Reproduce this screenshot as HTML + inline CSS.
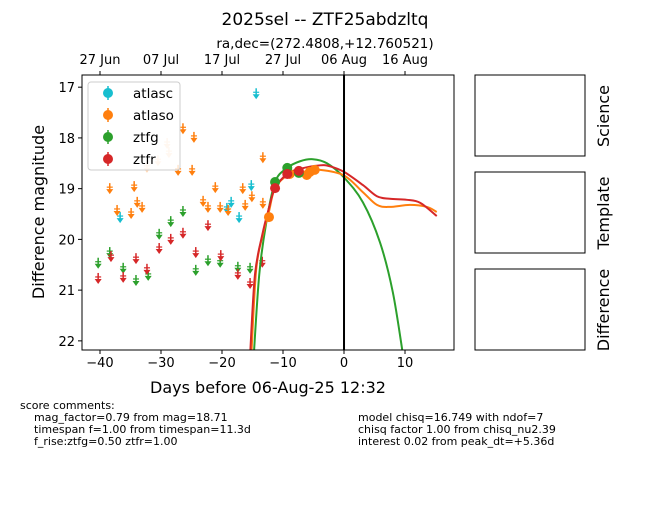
<!DOCTYPE html>
<html><head><meta charset="utf-8"><style>
body{margin:0;background:#fff;font-family:"Liberation Sans","DejaVu Sans",sans-serif;}
svg text{font-family:"DejaVu Sans","Liberation Sans",sans-serif;}
</style></head><body>
<svg id="chart" width="650" height="500" xmlns="http://www.w3.org/2000/svg">
<rect width="650" height="500" fill="#fff"/>
<text x="325" y="25" font-size="17" text-anchor="middle">2025sel -- ZTF25abdzltq</text>
<text x="325" y="48" font-size="13.5" text-anchor="middle">ra,dec=(272.4808,+12.760521)</text>
<defs><clipPath id="pc"><rect x="82" y="75" width="372" height="275"/></clipPath></defs>
<g id="marks" clip-path="url(#pc)"></g>
<g id="axes"></g>
<rect x="82" y="75" width="372" height="275" fill="none" stroke="#000" stroke-width="1"/>
<g id="legend">
<rect x="88" y="82" width="92" height="88" rx="3" fill="#fff" fill-opacity="0.8" stroke="#ccc"/>
</g>
<text x="268" y="393" font-size="16" text-anchor="middle">Days before 06-Aug-25 12:32</text>
<text transform="translate(44,212) rotate(-90)" font-size="16" text-anchor="middle">Difference magnitude</text>
<rect x="475" y="75" width="110" height="81" fill="none" stroke="#000"/>
<rect x="475" y="172" width="110" height="81" fill="none" stroke="#000"/>
<rect x="475" y="269" width="110" height="81" fill="none" stroke="#000"/>
<text transform="translate(609,116) rotate(-90)" font-size="16" text-anchor="middle">Science</text>
<text transform="translate(609,213) rotate(-90)" font-size="16" text-anchor="middle">Template</text>
<text transform="translate(609,310) rotate(-90)" font-size="16" text-anchor="middle">Difference</text>
<g font-size="11">
<text x="20" y="409">score comments:</text>
<text x="34" y="421">mag_factor=0.79 from mag=18.71</text>
<text x="34" y="433">timespan f=1.00 from timespan=11.3d</text>
<text x="34" y="445">f_rise:ztfg=0.50 ztfr=1.00</text>
<text x="358" y="421">model chisq=16.749 with ndof=7</text>
<text x="358" y="433">chisq factor 1.00 from chisq_nu2.39</text>
<text x="358" y="445">interest 0.02 from peak_dt=+5.36d</text>
</g>
</svg>
<script>
const xTicks=[-40,-30,-20,-10,0,10];
const xTickLabels=["−40","−30","−20","−10","0","10"];
const yTicks=[17,18,19,20,21,22];
const topTicks=[-40,-30,-20,-10,0,10];
const topTickLabels=["27 Jun","07 Jul","17 Jul","27 Jul","06 Aug","16 Aug"];
const atlascLimD=[-14.4,-36.7,-15.2,-18.5,-19.2,-17.2];
const atlascLimM=[17.12,19.56,18.93,19.26,19.38,19.56];
const atlasoLimD=[-38.4,-37.2,-34.9,-34.4,-33.9,-33.1,-32.3,-30.5,-29.0,-28.7,-27.2,-26.4,-24.9,-24.6,-23.1,-22.3,-21.1,-20.3,-19.0,-16.6,-16.2,-15.1,-13.3,-13.3];
const atlasoLimM=[18.99,19.42,19.48,18.95,19.26,19.36,18.57,18.44,18.10,18.28,18.63,17.81,18.63,17.98,19.24,19.36,18.97,19.36,19.42,18.99,19.32,19.15,18.38,19.28];
const atlasoFaint=[0,0,0,0,0,0,1,1,1,1,0,0,0,0,0,0,0,0,0,0,0,0,0,0];
const atlasoDetD=[-12.3,-8.9,-6.1,-5.6,-4.8];
const atlasoDetM=[19.56,18.71,18.73,18.67,18.63];
const ztfgLimD=[-40.3,-38.4,-36.2,-34.1,-32.1,-30.3,-28.4,-26.4,-24.3,-22.3,-20.3,-17.4,-15.4];
const ztfgLimM=[20.46,20.25,20.56,20.80,20.70,19.89,19.64,19.44,20.60,20.41,20.44,20.54,20.56];
const ztfgDetD=[-11.3,-9.3,-7.4];
const ztfgDetM=[18.87,18.59,18.69];
const ztfrLimD=[-40.3,-38.2,-36.2,-34.1,-32.3,-30.3,-28.4,-26.4,-24.3,-22.3,-20.2,-17.4,-15.4,-13.4];
const ztfrLimM=[20.76,20.33,20.74,20.37,20.58,20.17,19.99,19.87,20.25,19.72,20.31,20.68,20.86,20.44];
const ztfrDetD=[-11.3,-9.3,-7.4];
const ztfrDetM=[18.99,18.71,18.65];
const modelgD=[-14.8,-13.9,-12.8,-11.3,-9.3,-7.2,-5.1,-2.8,0,3.1,5.9,8.0,9.7];
const modelgM=[22.3,20.70,19.71,18.87,18.59,18.46,18.42,18.50,18.78,19.27,20.06,21.04,22.3];
const modelrD=[-15.4,-14.6,-13.4,-12.3,-11.3,-9.3,-7.2,-3.9,-2.3,0,3.1,5.4,7.5,10.3,12.5,15.2];
const modelrM=[22.3,20.70,19.91,19.38,18.99,18.71,18.61,18.54,18.56,18.67,18.93,19.15,19.20,19.22,19.28,19.54];
const modeloD=[-15.2,-14.4,-13.3,-12.3,-11.3,-9.0,-6.0,-3.9,0,3.1,5.4,7.5,10.8,13.6,15.2];
const modeloM=[22.3,20.6,19.9,19.45,18.99,18.72,18.66,18.63,18.74,19.07,19.32,19.36,19.32,19.36,19.46];

const NS="http://www.w3.org/2000/svg";
const X0=82,X1=454,Y0=75,Y1=350;
const dMin=-42.95,dMax=18.03,mTop=16.76,mBot=22.18;
function xS(d){return X0+(d-dMin)/(dMax-dMin)*(X1-X0);}
function yS(m){return Y0+(m-mTop)/(mBot-mTop)*(Y1-Y0);}
function mk(tag,attrs,parent){const e=document.createElementNS(NS,tag);for(const k in attrs)e.setAttribute(k,attrs[k]);parent.appendChild(e);return e;}
const marks=document.getElementById('marks'),axes=document.getElementById('axes'),legend=document.getElementById('legend');
const C={c:'#17becf',o:'#ff7f0e',g:'#2ca02c',r:'#d62728'};

function smooth(D,M){
  const p=D.map((d,i)=>[xS(d),yS(M[i])]);
  let s='M'+p[0][0]+','+p[0][1];
  for(let i=0;i<p.length-1;i++){
    const a=p[Math.max(0,i-1)],b=p[i],c=p[i+1],e=p[Math.min(p.length-1,i+2)];
    const c1=[b[0]+(c[0]-a[0])/6,b[1]+(c[1]-a[1])/6],c2=[c[0]-(e[0]-b[0])/6,c[1]-(e[1]-b[1])/6];
    s+='C'+c1[0]+','+c1[1]+' '+c2[0]+','+c2[1]+' '+c[0]+','+c[1];
  }
  return s;
}
function lim(d,m,col,name,op){
  const x=xS(d),y=yS(m);
  const g=mk('g',{opacity:op||1},marks);
  
  
  mk('line',{x1:x,y1:y-5,x2:x,y2:y+3,stroke:col,'stroke-width':1.5},g);
  mk('path',{d:`M${x-3.5},${y+1}L${x+3.5},${y+1}L${x},${y+6}Z`,fill:col},g);
  mk('line',{x1:x-3,y1:y-1,x2:x+3,y2:y-1,stroke:col,'stroke-width':1.2},g);
}
function det(d,m,col,name){
  const c=mk('circle',{cx:xS(d),cy:yS(m),r:5,fill:col},marks);
  
  
}
atlascLimD.forEach((d,i)=>lim(d,atlascLimM[i],C.c,'atlasc-limit'));
atlasoLimD.forEach((d,i)=>lim(d,atlasoLimM[i],C.o,'atlaso-limit',atlasoFaint[i]?0.3:1));
ztfgLimD.forEach((d,i)=>lim(d,ztfgLimM[i],C.g,'ztfg-limit'));
ztfrLimD.forEach((d,i)=>lim(d,ztfrLimM[i],C.r,'ztfr-limit'));
[[modelgD,modelgM,C.g,'ztfg-model-curve'],[modeloD,modeloM,C.o,'atlaso-model-curve'],[modelrD,modelrM,C.r,'ztfr-model-curve']].forEach(a=>{
  const p=mk('path',{d:smooth(a[0],a[1]),fill:'none',stroke:a[2],'stroke-width':2},marks);
  
  
});
atlasoDetD.forEach((d,i)=>det(d,atlasoDetM[i],C.o,'atlaso-detection'));
ztfgDetD.forEach((d,i)=>det(d,ztfgDetM[i],C.g,'ztfg-detection'));
ztfrDetD.forEach((d,i)=>det(d,ztfrDetM[i],C.r,'ztfr-detection'));
const vl=mk('line',{x1:xS(0),y1:Y0,x2:xS(0),y2:Y1,stroke:'#000','stroke-width':2},marks);



xTicks.forEach((t,i)=>{const x=xS(t);mk('line',{x1:x,y1:Y1,x2:x,y2:Y1+4,stroke:'#000'},axes);
  const tx=mk('text',{x:x,y:Y1+17,'font-size':13,'text-anchor':'middle'},axes);tx.textContent=xTickLabels[i];
  
  });
yTicks.forEach(t=>{const y=yS(t);mk('line',{x1:X0-4,y1:y,x2:X0,y2:y,stroke:'#000'},axes);
  const tx=mk('text',{x:X0-7,y:y+5,'font-size':13,'text-anchor':'end'},axes);tx.textContent=t;
  
  });
topTicks.forEach((t,i)=>{const x=xS(t);mk('line',{x1:x,y1:Y0-4,x2:x,y2:Y0,stroke:'#000'},axes);
  const tx=mk('text',{x:x,y:Y0-11,'font-size':13,'text-anchor':'middle'},axes);tx.textContent=topTickLabels[i];
  
  });

[['atlasc',C.c],['atlaso',C.o],['ztfg',C.g],['ztfr',C.r]].forEach((e,i)=>{
  const y=93+i*22;
  const g=mk('g',{},legend);
  
  
  mk('line',{x1:108,y1:y-7,x2:108,y2:y+7,stroke:e[1],'stroke-width':1.5},g);
  mk('circle',{cx:108,cy:y,r:5,fill:e[1]},g);
  const t=mk('text',{x:133,y:y+5,'font-size':13.5},g);t.textContent=e[0];
});
</script>
</body></html>
